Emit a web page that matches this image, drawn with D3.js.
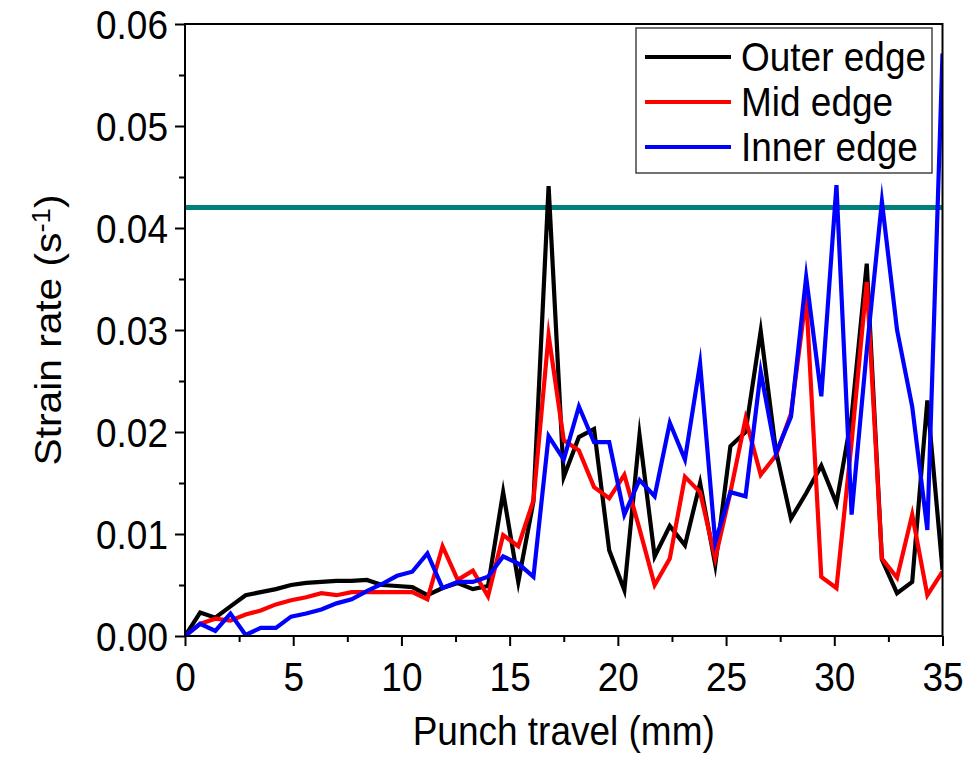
<!DOCTYPE html>
<html>
<head>
<meta charset="utf-8">
<script src="https://cdn.jsdelivr.net/npm/d3@7"></script>
<style>
  html, body { margin: 0; padding: 0; background: #fff; }
  svg { display: block; }
  text { font-family: "Liberation Sans", Arial, sans-serif; fill: #000; }
</style>
</head>
<body>
<svg id="chart" width="971" height="758"></svg>
<script>
// ---- data ----
const step = 0.7;
const travel = d3.range(51).map(i => +(i * step).toFixed(1));
const outerEdge = [0, 0.0023, 0.0018, 0.0029, 0.0040, 0.0043, 0.0046, 0.0050, 0.0052, 0.0053,
  0.0054, 0.0054, 0.0055, 0.0050, 0.0049, 0.0048, 0.0040, 0.0047, 0.0052, 0.0046,
  0.0049, 0.0141, 0.0053, 0.0132, 0.0441, 0.0156, 0.0195, 0.0203, 0.0084, 0.0045,
  0.0197, 0.0078, 0.0108, 0.0089, 0.0150, 0.0070, 0.0186, 0.0200, 0.0299, 0.0182,
  0.0115, 0.0140, 0.0167, 0.0130, 0.0215, 0.0365, 0.0075, 0.0042, 0.0053, 0.0231, 0.0065];
const midEdge = [0, 0.0012, 0.0017, 0.0015, 0.0021, 0.0025, 0.0031, 0.0035, 0.0038, 0.0042,
  0.0040, 0.0043, 0.0043, 0.0043, 0.0043, 0.0043, 0.0036, 0.0088, 0.0055, 0.0064,
  0.0039, 0.0099, 0.0088, 0.0133, 0.0295, 0.0192, 0.0182, 0.0146, 0.0135, 0.0158,
  0.0105, 0.0050, 0.0076, 0.0156, 0.0141, 0.0076, 0.0141, 0.0213, 0.0158, 0.0177,
  0.0218, 0.0333, 0.0058, 0.0047, 0.0190, 0.0347, 0.0076, 0.0057, 0.0119, 0.0040, 0.0063];
const innerEdge = [0, 0.0012, 0.0005, 0.0022, 0.0001, 0.0008, 0.0008, 0.0019, 0.0022, 0.0026,
  0.0032, 0.0036, 0.0044, 0.0051, 0.0059, 0.0063, 0.0081, 0.0047, 0.0053, 0.0053,
  0.0058, 0.0078, 0.0071, 0.0058, 0.0196, 0.0173, 0.0225, 0.0190, 0.0190, 0.0119,
  0.0153, 0.0137, 0.0209, 0.0173, 0.0267, 0.0092, 0.0141, 0.0137, 0.0259, 0.0179,
  0.0215, 0.0352, 0.0235, 0.0442, 0.0119, 0.0280, 0.0426, 0.0300, 0.0225, 0.0104, 0.0571];
const seriesNames = ["Outer edge", "Mid edge", "Inner edge"];
const seriesColors = ["#000000", "#ff0000", "#0000ff"];
const thresholdValue = 0.042;
const xTicks = [0, 5, 10, 15, 20, 25, 30, 35];
const yTicks = [0, 0.01, 0.02, 0.03, 0.04, 0.05, 0.06];

// ---- layout ----
const svg = d3.select("#chart");
const margin = { left: 185, top: 24, right: 28.5, bottom: 122 };
const W = 971, H = 758;
const FS = 37;          // base font size
const SY = 1.1;         // vertical stretch of glyphs seen in the reference
const x = d3.scaleLinear().domain([0, 35]).range([margin.left, W - margin.right]);
const y = d3.scaleLinear().domain([0, 0.06]).range([H - margin.bottom, margin.top]);

svg.append("clipPath").attr("id", "clip")
  .append("rect").attr("x", margin.left).attr("y", margin.top - 2)
  .attr("width", x(35) - margin.left).attr("height", y(0) - margin.top + 2);

// threshold line
svg.append("line")
  .attr("x1", x(0)).attr("x2", x(35))
  .attr("y1", y(thresholdValue)).attr("y2", y(thresholdValue))
  .attr("stroke", "#007f7b").attr("stroke-width", 5);

// series lines
const allSeries = [outerEdge, midEdge, innerEdge];
const line = d3.line().x((d, i) => x(travel[i])).y(d => y(d));
const gLines = svg.append("g").attr("clip-path", "url(#clip)");
allSeries.forEach((s, k) => {
  gLines.append("path").datum(s)
    .attr("fill", "none")
    .attr("stroke", seriesColors[k])
    .attr("stroke-width", 4.2)
    .attr("stroke-linejoin", "miter")
    .attr("stroke-miterlimit", 10)
    .attr("d", line);
});

// frame
svg.append("rect")
  .attr("x", x(0)).attr("y", y(0.06))
  .attr("width", x(35) - x(0)).attr("height", y(0) - y(0.06))
  .attr("fill", "none").attr("stroke", "#000").attr("stroke-width", 2);

// x axis
const xAxis = d3.axisBottom(x).tickValues(xTicks).tickSize(10).tickPadding(0).tickFormat(d3.format("d"));
const gx = svg.append("g").attr("transform", `translate(0,${y(0)})`).call(xAxis);
gx.select(".domain").remove();
gx.selectAll(".tick line").attr("stroke-width", 2);
gx.selectAll(".tick text").style("font-size", FS + "px")
  .attr("y", 0).attr("dy", null)
  .attr("transform", `translate(0,55) scale(1,${SY})`);
const xMinor = d3.axisBottom(x).tickValues(d3.range(2.5, 35, 5)).tickSize(6).tickFormat("");
const gxm = svg.append("g").attr("transform", `translate(0,${y(0)})`).call(xMinor);
gxm.select(".domain").remove();
gxm.selectAll(".tick line").attr("stroke-width", 2);

// y axis
const yAxis = d3.axisLeft(y).tickValues(yTicks).tickSize(10).tickPadding(7).tickFormat(d3.format(".2f"));
const gy = svg.append("g").attr("transform", `translate(${x(0)},0)`).call(yAxis);
gy.select(".domain").remove();
gy.selectAll(".tick line").attr("stroke-width", 2);
gy.selectAll(".tick text").style("font-size", FS + "px")
  .attr("dy", null).attr("y", 0)
  .attr("transform", `translate(0,14.5) scale(1,${SY})`);
const yMinor = d3.axisLeft(y).tickValues(d3.range(0.005, 0.06, 0.01)).tickSize(6).tickFormat("");
const gym = svg.append("g").attr("transform", `translate(${x(0)},0)`).call(yMinor);
gym.select(".domain").remove();
gym.selectAll(".tick line").attr("stroke-width", 2);

// axis titles
svg.append("text")
  .attr("transform", `translate(${(x(0) + x(35)) / 2},745) scale(1,${SY})`)
  .attr("text-anchor", "middle").style("font-size", FS + "px")
  .text("Punch travel (mm)");
const yt = svg.append("text")
  .attr("transform", `translate(61,${(y(0) + y(0.06)) / 2}) rotate(-90) scale(${SY},1)`)
  .attr("text-anchor", "middle").style("font-size", FS + "px");
yt.append("tspan").text("Strain rate (s");
yt.append("tspan").attr("dy", "-0.45em").style("font-size", "25px").text("-1");
yt.append("tspan").attr("dy", "0.3em").text(")");

// legend
const lg = svg.append("g");
lg.append("rect").attr("x", 636).attr("y", 28).attr("width", 296).attr("height", 145)
  .attr("fill", "#fff").attr("stroke", "#444").attr("stroke-width", 1.5);
seriesNames.forEach((name, k) => {
  const cy = 57 + k * 45;
  lg.append("line").attr("x1", 645).attr("x2", 731).attr("y1", cy).attr("y2", cy)
    .attr("stroke", seriesColors[k]).attr("stroke-width", 4.2);
  lg.append("text")
    .attr("transform", `translate(741,${cy + 14}) scale(1,${SY})`)
    .style("font-size", FS + "px").text(name);
});
</script>
</body>
</html>
